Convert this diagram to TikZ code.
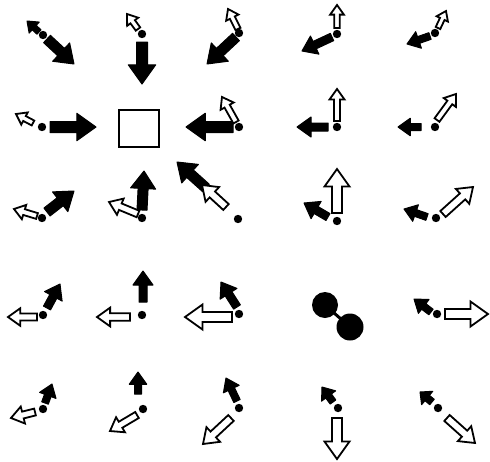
\documentclass[tikz,border=0pt]{standalone}
\usetikzlibrary{calc}
\tikzset{
  filledarr/.style={fill=black,draw=black,line width=1pt,line join=round},
  openarr/.style={fill=white,draw=black,line width=1.8pt,line join=miter},
  blob/.style={fill=black,draw=none}
}
% #1 style, #2 x1, #3 y1 (tail), #4 x2, #5 y2 (tip), #6 shaft width  (pixel coords, y down)
\newcommand\blockarrow[6]{%
  \pgfmathsetmacro\arrdx{#4-(#2)}%
  \pgfmathsetmacro\arrdy{#3-(#5)}%
  \pgfmathsetmacro\arrang{atan2(\arrdy,\arrdx)}%
  \pgfmathsetmacro\arrlen{veclen(\arrdx,\arrdy)}%
  \pgfmathsetmacro\arrw{#6/2}%
  \pgfmathsetmacro\arrh{#6*1.25}%
  \pgfmathsetmacro\arrhl{min(#6*1.75,\arrlen*0.6)}%
  \pgfmathsetmacro\arrb{\arrlen-\arrhl}%
  \begin{scope}[shift={(#2,#3)},rotate=\arrang]
    \draw[#1] (0pt,\arrw pt) -- (\arrb pt,\arrw pt) -- (\arrb pt,\arrh pt) -- (\arrlen pt,0pt)
      -- (\arrb pt,-\arrh pt) -- (\arrb pt,-\arrw pt) -- (0pt,-\arrw pt) -- cycle;
  \end{scope}}
\newcommand\dotat[2]{\fill (#1,#2) circle (4.2pt);}
\begin{document}
\begin{tikzpicture}[x=1pt,y=-1pt]
\useasboundingbox (0,0) rectangle (490,461);
\fill[white] (0,0) rectangle (490,461);
% ---- Row 1 ----
\blockarrow{filledarr}{39}{32}{27}{21}{6}
\dotat{43}{35}
\blockarrow{filledarr}{47}{39}{74}{64}{10}
\blockarrow{openarr}{138}{29}{127}{14}{5.5}
\dotat{142}{34}
\blockarrow{filledarr}{142}{42}{142}{84}{11}
\blockarrow{openarr}{238}{29}{228}{9}{5.5}
\dotat{239}{33}
\blockarrow{filledarr}{236}{37}{207}{64}{10}
\blockarrow{openarr}{337}{28}{337}{5}{5.5}
\dotat{337}{34}
\blockarrow{filledarr}{332}{37}{302}{51}{8}
\blockarrow{openarr}{438}{28}{446}{11}{5}
\dotat{435}{33}
\blockarrow{filledarr}{430}{36}{407}{44}{7}
% ---- Row 2 ----
\blockarrow{openarr}{33}{123}{16}{114}{5.5}
\dotat{42}{127}
\blockarrow{filledarr}{50}{127}{96}{127}{11}
\draw[line width=2pt] (119,110) rectangle (159,147);
\blockarrow{filledarr}{233}{127}{186}{127}{11}
\dotat{239}{127}
\blockarrow{openarr}{236}{122}{222}{97}{6}
\blockarrow{openarr}{337}{121}{337}{89}{6}
\dotat{337}{127}
\blockarrow{filledarr}{328}{127}{297}{127}{8}
\blockarrow{openarr}{437}{120}{456}{94}{6}
\dotat{435}{127}
\blockarrow{filledarr}{421}{127}{398}{127}{7}
% ---- Row 3 ----
\dotat{42}{218}
\blockarrow{filledarr}{47}{212}{74}{191}{10}
\blockarrow{openarr}{37}{216}{14}{209}{6}
\dotat{142}{218}
\blockarrow{filledarr}{142}{210}{144}{171}{10}
\blockarrow{openarr}{138}{214}{109}{202}{7}
\dotat{238}{219}
\blockarrow{filledarr}{206}{188}{177}{162}{10}
\blockarrow{openarr}{226}{207}{202}{185}{8}
\dotat{337}{221}
\blockarrow{openarr}{337}{213}{337}{169}{10}
\blockarrow{filledarr}{328}{217}{304}{203}{8}
\dotat{436}{218}
\blockarrow{openarr}{443}{214}{473}{187}{8}
\blockarrow{filledarr}{427}{217}{404}{209}{7}
% ---- Row 4 ----
\dotat{43}{315}
\blockarrow{openarr}{37}{317}{8}{317}{7}
\blockarrow{filledarr}{47}{308}{60}{284}{8}
\dotat{142}{315}
\blockarrow{openarr}{130}{317}{97}{317}{7.5}
\blockarrow{filledarr}{143}{302}{143}{271}{8}
\dotat{239}{314}
\blockarrow{openarr}{232}{317}{185}{317}{10}
\blockarrow{filledarr}{237}{307}{221}{282}{8}
% dumbbell
\fill (325,305) circle (13pt);
\fill (350,327) circle (13.5pt);
\draw[line width=3pt] (325,305) -- (350,327);
\blockarrow{filledarr}{431}{312}{414}{299}{7}
\dotat{437}{314}
\blockarrow{openarr}{445}{314}{488}{314}{10}
% ---- Row 5 ----
\dotat{43}{409}
\blockarrow{openarr}{35}{412}{11}{418}{7}
\blockarrow{filledarr}{45}{403}{52}{384}{7}
\dotat{143}{409}
\blockarrow{filledarr}{138}{394}{138}{372}{7}
\blockarrow{openarr}{137}{415}{110}{431}{7}
\dotat{239}{408}
\blockarrow{filledarr}{237}{401}{226}{378}{7}
\blockarrow{openarr}{231}{418}{203}{444}{8}
\blockarrow{filledarr}{333}{402}{322}{387}{7}
\dotat{338}{408}
\blockarrow{openarr}{337}{418}{337}{459}{10}
\blockarrow{filledarr}{432}{402}{420}{392}{7}
\dotat{438}{408}
\blockarrow{openarr}{447}{418}{475}{443}{8}
\end{tikzpicture}
\end{document}
